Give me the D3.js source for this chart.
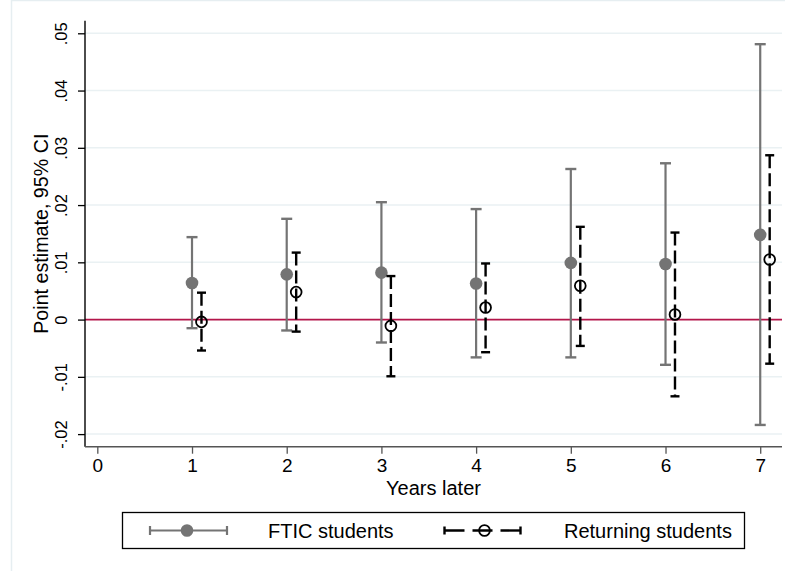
<!DOCTYPE html>
<html>
<head>
<meta charset="utf-8">
<script src="https://cdn.jsdelivr.net/npm/d3@7"></script>
<style>
    body { margin: 0; background: #fff; }
    text { font-family: "Liberation Sans", Arial, sans-serif; fill: #000; }
</style>
</head>
<body>
<script>
// values
const years = [1, 2, 3, 4, 5, 6, 7];
const fticEst = [0.0064, 0.0079, 0.0082, 0.0063, 0.0099, 0.0097, 0.0148];
const fticLow = [-0.0015, -0.0019, -0.0040, -0.0066, -0.0066, -0.0079, -0.0184];
const fticHigh = [0.0144, 0.0176, 0.0205, 0.0193, 0.0263, 0.0273, 0.0481];
const retEst = [-0.0004, 0.0048, -0.0011, 0.0021, 0.0059, 0.0009, 0.0105];
const retLow = [-0.0054, -0.0021, -0.0099, -0.0057, -0.0046, -0.0134, -0.0077];
const retHigh = [0.0047, 0.0117, 0.0076, 0.0098, 0.0162, 0.0152, 0.0287];
const xTicks = [0, 1, 2, 3, 4, 5, 6, 7];
const yTicks = [-0.02, -0.01, 0, 0.01, 0.02, 0.03, 0.04, 0.05];
const yTickLabels = ["-.02", "-.01", "0", ".01", ".02", ".03", ".04", ".05"];
const seriesNames = ["FTIC students", "Returning students"];

const width = 785;
const height = 571;
const plotLeft = 85, plotRight = 782, plotTop = 20.7, plotBottom = 446.7;
const gray = "#747474";
const retOffset = 0.1;

const svg = d3.select('body').append('svg')
    .attr('width', width)
    .attr('height', height);

const x = d3.scaleLinear().domain([-0.13, 7.23]).range([plotLeft, plotRight]);
const y = d3.scaleLinear().domain([-0.0222, 0.0522]).range([plotBottom, plotTop]);

// outer frame
svg.append("rect")
    .attr("x", 11.5)
    .attr("y", 0.5)
    .attr("width", 790)
    .attr("height", 590)
    .attr("fill", "#fff")
    .attr("stroke", "#e6eef1")
    .attr("stroke-width", 1.5);

drawGrid();
drawAxes();
drawSeries();
drawLegend();

function drawGrid() {
    const g = svg.append("g");
    g.selectAll("line")
        .data(yTicks.filter(d => d !== 0))
        .join("line")
        .attr("x1", plotLeft)
        .attr("x2", plotRight)
        .attr("y1", d => y(d))
        .attr("y2", d => y(d))
        .attr("stroke", "#eaf1f3")
        .attr("stroke-width", 1.5);

    // reference line at zero
    svg.append("line")
        .attr("x1", plotLeft)
        .attr("x2", plotRight)
        .attr("y1", y(0))
        .attr("y2", y(0))
        .attr("stroke", "#b3164a")
        .attr("stroke-width", 1.6);
}

function drawAxes() {
    const yAxis = d3.axisLeft(y)
        .tickValues(yTicks)
        .tickSize(7)
        .tickFormat((d, i) => yTickLabels[i]);

    const gy = svg.append("g")
        .attr("transform", `translate(${plotLeft},0)`)
        .call(yAxis);
    gy.select(".domain").remove();
    gy.selectAll(".tick line").attr("stroke", "#000").attr("stroke-width", 1.3);
    gy.selectAll(".tick text")
        .attr("font-size", "16.5px")
        .attr("text-anchor", "middle")
        .attr("transform", "rotate(-90)")
        .attr("x", 0)
        .attr("y", -18)
        .attr("dy", null);

    svg.append("line")
        .attr("x1", plotLeft)
        .attr("x2", plotLeft)
        .attr("y1", plotTop)
        .attr("y2", plotBottom)
        .attr("stroke", "#000")
        .attr("stroke-width", 1.4);

    const xAxis = d3.axisBottom(x)
        .tickValues(xTicks)
        .tickSize(7)
        .tickFormat(d3.format("d"));

    const gx = svg.append("g")
        .attr("transform", `translate(0,${plotBottom})`)
        .call(xAxis);
    gx.select(".domain").remove();
    gx.selectAll(".tick line").attr("stroke", "#555").attr("stroke-width", 1.3);
    gx.selectAll(".tick text")
        .attr("font-size", "19px")
        .attr("y", 25.5)
        .attr("dy", null);

    svg.append("line")
        .attr("x1", plotLeft)
        .attr("x2", plotRight)
        .attr("y1", plotBottom)
        .attr("y2", plotBottom)
        .attr("stroke", "#555")
        .attr("stroke-width", 1.6);

    svg.append("text")
        .attr("x", (plotLeft + plotRight) / 2)
        .attr("y", 494.5)
        .attr("font-size", "20px")
        .attr("text-anchor", "middle")
        .text("Years later");

    svg.append("text")
        .attr("transform", `translate(48,${(plotTop + plotBottom) / 2}) rotate(-90)`)
        .attr("font-size", "19.7px")
        .attr("text-anchor", "middle")
        .text("Point estimate, 95% CI");
}

function drawSeries() {
    // FTIC: solid gray capped bars, filled dots
    const f = svg.append("g");
    years.forEach((yr, i) => {
        const cx = x(yr);
        f.append("line")
            .attr("x1", cx).attr("x2", cx)
            .attr("y1", y(fticLow[i])).attr("y2", y(fticHigh[i]))
            .attr("stroke", gray).attr("stroke-width", 2.2);
        [fticLow[i], fticHigh[i]].forEach(v => {
            f.append("line")
                .attr("x1", cx - 5.5).attr("x2", cx + 5.5)
                .attr("y1", y(v)).attr("y2", y(v))
                .attr("stroke", gray).attr("stroke-width", 2.4);
        });
        f.append("circle")
            .attr("cx", cx).attr("cy", y(fticEst[i]))
            .attr("r", 6.3)
            .attr("fill", gray);
    });

    // returning: dashed black capped bars, hollow dots
    const r = svg.append("g");
    years.forEach((yr, i) => {
        const cx = x(yr + retOffset);
        r.append("line")
            .attr("x1", cx).attr("x2", cx)
            .attr("y1", y(retHigh[i])).attr("y2", y(retLow[i]))
            .attr("stroke", "#000").attr("stroke-width", 2.4)
            .attr("stroke-dasharray", "13,5");
        [retLow[i], retHigh[i]].forEach(v => {
            r.append("line")
                .attr("x1", cx - 4.5).attr("x2", cx + 4.5)
                .attr("y1", y(v)).attr("y2", y(v))
                .attr("stroke", "#000").attr("stroke-width", 2.4);
        });
        r.append("circle")
            .attr("cx", cx).attr("cy", y(retEst[i]))
            .attr("r", 5.4)
            .attr("fill", "none")
            .attr("stroke", "#000")
            .attr("stroke-width", 1.8);
    });
}

function drawLegend() {
    const g = svg.append("g");
    g.append("rect")
        .attr("x", 122.5).attr("y", 512.5)
        .attr("width", 622).attr("height", 36)
        .attr("fill", "#fff")
        .attr("stroke", "#000")
        .attr("stroke-width", 1.3);

    const ly = 530.5;

    // FTIC key
    g.append("line")
        .attr("x1", 150).attr("x2", 227)
        .attr("y1", ly).attr("y2", ly)
        .attr("stroke", gray).attr("stroke-width", 2.2);
    [150, 227].forEach(px => {
        g.append("line")
            .attr("x1", px).attr("x2", px)
            .attr("y1", ly - 4.5).attr("y2", ly + 4.5)
            .attr("stroke", gray).attr("stroke-width", 2.2);
    });
    g.append("circle")
        .attr("cx", 187).attr("cy", ly).attr("r", 6.3)
        .attr("fill", gray);
    g.append("text")
        .attr("x", 268).attr("y", ly + 7.3)
        .attr("font-size", "20px")
        .text(seriesNames[0]);

    // returning key
    g.append("line")
        .attr("x1", 444.5).attr("x2", 520.5)
        .attr("y1", ly).attr("y2", ly)
        .attr("stroke", "#000").attr("stroke-width", 2.4)
        .attr("stroke-dasharray", "20,8");
    [444.5, 520.5].forEach(px => {
        g.append("line")
            .attr("x1", px).attr("x2", px)
            .attr("y1", ly - 4).attr("y2", ly + 4)
            .attr("stroke", "#000").attr("stroke-width", 2.4);
    });
    g.append("circle")
        .attr("cx", 484.5).attr("cy", ly).attr("r", 5.4)
        .attr("fill", "none")
        .attr("stroke", "#000").attr("stroke-width", 1.8);
    g.append("text")
        .attr("x", 564).attr("y", ly + 7.3)
        .attr("font-size", "20px")
        .text(seriesNames[1]);
}
</script>
</body>
</html>
